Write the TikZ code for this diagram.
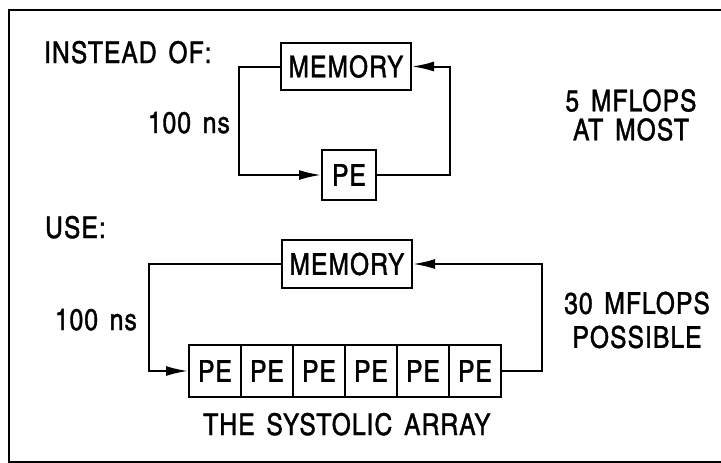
\documentclass[tikz,border=0pt]{standalone}
\usepackage{fontspec}
\setmainfont{TeX Gyre Heros Cn}[FakeBold=1.2, LetterSpace=3.5, WordSpace=1.5]
\usetikzlibrary{shapes,arrows,arrows.meta,positioning}

\begin{document}
\begin{tikzpicture}[x=1pt, y=-1pt,
        box/.style={draw, line width=2pt, inner sep=0pt, font=\fontsize{30}{30}\selectfont},
        lbl/.style={inner sep=0pt, font=\fontsize{30}{30}\selectfont},
        arr/.style={line width=2pt, -{Latex[length=22pt,width=10pt]}}
    ]
        \useasboundingbox (0,0) rectangle (721,463);
        \draw[line width=2.2pt] (730,10) -| (9,462) -- (730,462);

        \node[lbl, anchor=base west] (instead) at (44,63) {INSTEAD OF:};
        \node[box, minimum width=130pt, minimum height=47pt] (mem1) at (346,66.5) {MEMORY};
        \node[box, minimum width=54pt, minimum height=50pt] (pe1) at (349,175) {PE};
        \node[lbl, anchor=base east] (time1) at (230,133) {100 ns};
        \node[lbl, align=center, font=\fontsize{30}{29}\selectfont] (rate1) at (631,115) {5 MFLOPS\\AT MOST};
        \draw[arr] (mem1.west) -- ++(-41,0) |- (pe1.west);
        \draw[arr] (pe1.east) -- ++(73,0) |- (mem1.east);

        \node[lbl, anchor=base west] (use) at (45,238) {USE:};
        \node[box, minimum width=130pt, minimum height=48pt] (mem2) at (347,264) {MEMORY};
        \foreach \i in {1,...,6}
            \node[box, minimum width=52pt, minimum height=52pt] (cell\i) at ({163+52*\i},371) {PE};
        \node[lbl, anchor=base east] (time2) at (137,330) {100 ns};
        \node[lbl, align=center, font=\fontsize{30}{34}\selectfont] (rate2) at (637,320) {30 MFLOPS\\POSSIBLE};
        \node[lbl, anchor=base] (array) at (347,435) {THE SYSTOLIC ARRAY};
        \draw[arr] (mem2.west) -- ++(-132,0) |- (cell1.west);
        \draw[arr] (cell6.east) -- ++(40,0) |- (mem2.east);
\end{tikzpicture}
\end{document}
